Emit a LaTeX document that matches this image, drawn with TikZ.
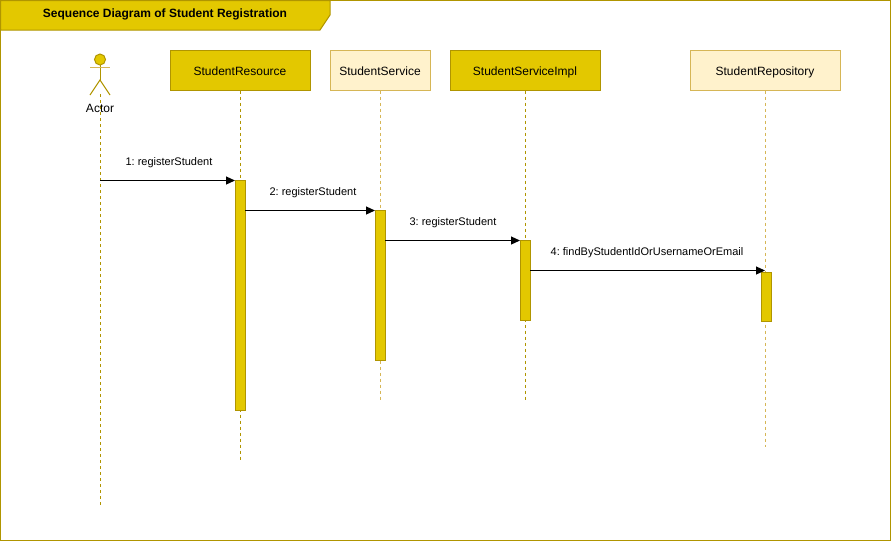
\documentclass[tikz,border=0pt]{standalone}
\usepackage{fontspec}
\setmainfont{Liberation Sans}
\usetikzlibrary {
  positioning,
  arrows.meta,
}
\definecolor{solidgold}{HTML}{E3C800}
\definecolor{goldline}{HTML}{B09500}
\definecolor{palegold}{HTML}{FFF2CC}
\definecolor{paleline}{HTML}{D6B656}
\tikzset{
  classbox/.style = {
    rectangle,
    draw = goldline,
    fill = solidgold,
    line width = 1pt,
    minimum height = 40pt,
    inner sep = 0pt,
    outer sep = 0pt,
    text height = 12pt,
    text depth = 2pt,
    font = \fontsize{12}{14}\selectfont
  },
  paleclass/.style = {
    classbox,
    draw = paleline,
    fill = palegold
  },
  activation/.style = {
    rectangle,
    draw = goldline,
    fill = solidgold,
    line width = 1pt,
    minimum width = 10pt,
    inner sep = 0pt,
    outer sep = 0pt
  },
  lifeline/.style = {
    draw = goldline,
    line width = 1pt,
    dash pattern = on 3pt off 3pt
  },
  palelife/.style = {
    lifeline,
    draw = paleline
  },
  call/.style = {
    -{Triangle[length = 9pt, width = 8pt]},
    line width = 1.2pt,
    black
  },
  calltext/.style = {
    font = \fontsize{11}{13}\selectfont\frenchspacing,
    inner sep = 0pt
  },
  figure/.style = {
    draw = goldline,
    line width = 1pt
  },
}
\begin{document}
\begin{tikzpicture}[x = 1pt, y = -1pt]
  \useasboundingbox (0,0) rectangle (891,542);
  % frame and title
  \node[draw = goldline, line width = 1.5pt, minimum width = 890pt, minimum height = 540pt, inner sep = 0pt, outer sep = 0pt] (frame) at (445.5,270.5) {};
  \draw[figure, fill = solidgold] (0.5,0.5) -- (330,0.5) -- (330,15) -- (320,30) -- (0.5,30) -- cycle;
  \node[font = \fontsize{12}{14}\selectfont\bfseries, inner sep = 0pt] (title) at (165,14) {Sequence Diagram of Student Registration};

  % classes
  \node[classbox, minimum width = 140pt] (resource) at (240,70.5) {StudentResource};
  \node[paleclass, minimum width = 100pt, right = 20pt of resource] (service) {StudentService};
  \node[classbox, minimum width = 150pt, right = 20pt of service] (impl) {StudentServiceImpl};
  \node[paleclass, minimum width = 150pt, right = 90pt of impl] (repository) {StudentRepository};

  % ends of the lifelines
  \coordinate (actortop) at (100,94);
  \coordinate (actorend) at (100,505);
  \coordinate (resourceend) at (240,460);
  \coordinate (serviceend) at (380,400);
  \coordinate (implend) at (525,400);
  \coordinate (repositoryend) at (765,447);
  \draw[lifeline] (actortop) -- (actorend);
  \draw[lifeline] (resource.south) -- (resourceend);
  \draw[palelife] (service.south) -- (serviceend);
  \draw[lifeline] (impl.south) -- (implend);
  \draw[palelife] (repository.south) -- (repositoryend);

  % actor
  \node[circle, draw = goldline, fill = solidgold, minimum size = 11pt, inner sep = 0pt, outer sep = 0pt, line width = 1pt] (head) at (100,59.5) {};
  \coordinate (hip) at (100,80);
  \coordinate (armleft) at (90,67.5);
  \coordinate (armright) at (110,67.5);
  \coordinate (footleft) at (90,95);
  \coordinate (footright) at (110,95);
  \draw[figure] (head) -- (hip);
  \draw[figure, draw = paleline] (armleft) -- (armright);
  \draw[figure] (footleft) -- (hip) -- (footright);
  \node[font = \fontsize{12}{14}\selectfont, inner sep = 0pt] (actor) at (100,108.5) {Actor};

  % activations
  \node[activation, minimum height = 230pt] (a1) at (240,295) {};
  \node[activation, minimum height = 150pt] (a2) at (380,285) {};
  \node[activation, minimum height = 80pt] (a3) at (525,280) {};
  \node[activation, minimum height = 49pt] (a4) at (766,296.5) {};

  % calls
  \coordinate (from1) at (100,180.5);
  \coordinate (to1) at (235,180.5);
  \coordinate (from2) at (245,210.5);
  \coordinate (to2) at (375,210.5);
  \coordinate (from3) at (385,240.5);
  \coordinate (to3) at (520,240.5);
  \coordinate (from4) at (530,270.5);
  \coordinate (to4) at (765,270.5);
  \draw[call] (from1) -- (to1);
  \draw[call] (from2) -- (to2);
  \draw[call] (from3) -- (to3);
  \draw[call] (from4) -- (to4);
  \node[calltext] (label1) at (169,163) {1: registerStudent};
  \node[calltext] (label2) at (313,193) {2: registerStudent};
  \node[calltext] (label3) at (453,223) {3: registerStudent};
  \node[calltext] (label4) at (647,253) {4: findByStudentIdOrUsernameOrEmail};
\end{tikzpicture}
\end{document}
